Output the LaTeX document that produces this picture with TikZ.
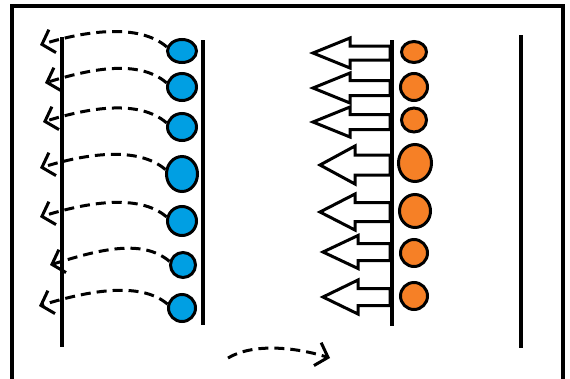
\documentclass[tikz,border=0pt]{standalone}
\usetikzlibrary{arrows.meta,shapes.geometric}
\definecolor{ballblue}{RGB}{0,159,227}
\definecolor{ballorange}{RGB}{246,128,38}
\tikzset{
  bball/.style={ellipse,draw=black,line width=3pt,fill=ballblue,inner sep=0pt},
  oball/.style={ellipse,draw=black,line width=3pt,fill=ballorange,inner sep=0pt},
  wall/.style={line width=3.5pt},
  frame/.style={line width=3.5pt},
  dasharrow/.style={line width=3pt,dash pattern=on 10pt off 6pt,-{Straight Barb[length=11pt,width=24pt,line width=3pt]}},
  blockarrow/.style={draw=black,fill=white,line width=3pt,line join=miter}
}
\newcommand\myblock[5]{%
  \draw[blockarrow] (#1,#3) -- (#2,{#3-#4}) -- (#2,{#3-#5}) -- (390,{#3-#5}) -- (390,{#3+#5}) -- (#2,{#3+#5}) -- (#2,{#3+#4}) -- cycle;}
\begin{document}
\begin{tikzpicture}[x=1pt,y=-1pt]
\useasboundingbox (0,0) rectangle (570,378);
% frame
\draw[frame] (12,382) -- (12,6) -- (563,6) -- (563,382);
% walls
\draw[wall] (62,37) -- (62,347);
\draw[wall] (203,40) -- (203,325);
\draw[wall] (392,40) -- (392,326);
\draw[wall] (521,35) -- (521,348);
% block arrows
\myblock{313}{350}{53}{15}{7}
\myblock{313}{350}{88}{15}{7.5}
\myblock{313}{350}{122}{15}{7.5}
\myblock{320}{355}{165}{19}{10}
\myblock{320}{355}{212}{18}{9.5}
\myblock{323}{358}{252}{16.5}{8.5}
\myblock{323}{358}{297}{17}{8.5}
% blue balls
\node[bball,minimum width=29pt,minimum height=23pt] (b1) at (182,51) {};
\node[bball,minimum width=29pt,minimum height=27pt] (b2) at (182,87) {};
\node[bball,minimum width=29pt,minimum height=27pt] (b3) at (182,127) {};
\node[bball,minimum width=31pt,minimum height=35pt] (b4) at (182,174) {};
\node[bball,minimum width=29pt,minimum height=29pt] (b5) at (182,221) {};
\node[bball,minimum width=25pt,minimum height=25pt] (b6) at (183,265) {};
\node[bball,minimum width=27pt,minimum height=27pt] (b7) at (182,308) {};
% orange balls
\node[oball,minimum width=25pt,minimum height=21pt] (o1) at (414,52) {};
\node[oball,minimum width=27pt,minimum height=27pt] (o2) at (414,87) {};
\node[oball,minimum width=25pt,minimum height=24pt] (o3) at (414,120) {};
\node[oball,minimum width=33pt,minimum height=37pt] (o4) at (415,163) {};
\node[oball,minimum width=31pt,minimum height=33pt] (o5) at (415,211) {};
\node[oball,minimum width=27pt,minimum height=27pt] (o6) at (414,253) {};
\node[oball,minimum width=27pt,minimum height=27pt] (o7) at (414,296) {};
% tips of dashed arrows
\coordinate (t1) at (40,45);
\coordinate (t2) at (45,83);
\coordinate (t3) at (43,122);
\coordinate (t4) at (40,168);
\coordinate (t5) at (40,217);
\coordinate (t6) at (50,265);
\coordinate (t7) at (39,306);
\foreach \i in {1,...,7}{
  \draw[dasharrow] (b\i.165) .. controls +(-28,-24) and +(45,-14) .. (t\i);
}
% bottom arrow
\coordinate (m1) at (228,358);
\coordinate (m2) at (330,358);
\draw[dasharrow] (m1) .. controls +(25,-15) and +(-35,-11) .. (m2);
\end{tikzpicture}
\end{document}
